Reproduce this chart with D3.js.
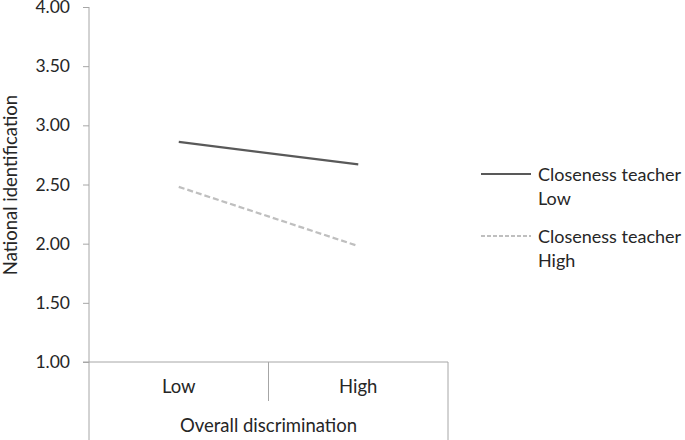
<!DOCTYPE html>
<html><head><meta charset="utf-8">
<script src="https://cdn.jsdelivr.net/npm/d3@7"></script>
<style>body{margin:0;background:#fff}svg{display:block}text{font-family:Lato,"Open Sans",sans-serif;fill:#262626}</style>
</head><body>
<svg id="c" width="685" height="440"></svg>
<script>
const categories = ["Low", "High"];
const seriesNames = ["Closeness teacher Low", "Closeness teacher High"];
const seriesLow = [2.86, 2.67];
const seriesHigh = [2.48, 1.98];
const yTicks = [1.0, 1.5, 2.0, 2.5, 3.0, 3.5, 4.0];
const xTitle = "Overall discrimination";
const yTitle = "National identification";

const svg = d3.select("#c");
const L = 89, R = 448, T = 7, B = 362;
const y = d3.scaleLinear().domain([1, 4]).range([B, T]);
const x = d3.scaleBand().domain(categories).range([L, R]);
const axisColor = "#a6a6a6";

// y axis
const ya = svg.append("g").attr("transform", `translate(${L},0)`)
  .call(d3.axisLeft(y).tickValues(yTicks).tickFormat(d3.format(".2f")).tickSize(6).tickSizeOuter(0));
ya.select(".domain").remove();
ya.selectAll(".tick line").attr("stroke", axisColor);
ya.selectAll(".tick text").attr("x", -19).attr("font-size", 17.5).attr("fill", "#262626").style("font-family", "Lato,'Open Sans',sans-serif");
svg.append("line").attr("x1", L).attr("x2", L).attr("y1", T).attr("y2", 440).attr("stroke", axisColor);

// x axis table
svg.append("line").attr("x1", L - 6).attr("x2", R).attr("y1", B).attr("y2", B).attr("stroke", axisColor);
svg.append("line").attr("x1", x("High")).attr("x2", x("High")).attr("y1", B).attr("y2", 401).attr("stroke", axisColor);
svg.append("line").attr("x1", R).attr("x2", R).attr("y1", B).attr("y2", 440).attr("stroke", axisColor);
svg.selectAll(".xl").data(categories).enter().append("text")
  .attr("x", d => x(d) + x.bandwidth() / 2).attr("y", 393).attr("text-anchor", "middle").attr("font-size", 18.5).text(d => d);
svg.append("text").attr("x", (L + R) / 2).attr("y", 432).attr("text-anchor", "middle").attr("font-size", 18.5).text(xTitle);
svg.append("text").attr("transform", `translate(17,185) rotate(-90)`).attr("text-anchor", "middle").attr("font-size", 18.5).text(yTitle);

// lines
const line = d3.line().x((d, i) => x(categories[i]) + x.bandwidth() / 2).y(d => y(d));
const styles = [{c: "#595959", w: 2.25, dash: null}, {c: "#bfbfbf", w: 2.25, dash: "6,3"}];
[seriesLow, seriesHigh].forEach((s, i) => {
  svg.append("path").datum(s).attr("d", line).attr("fill", "none")
    .attr("stroke", styles[i].c).attr("stroke-width", styles[i].w).attr("stroke-dasharray", styles[i].dash);
});

// legend
const legY = [174, 236];
seriesNames.forEach((n, i) => {
  const g = svg.append("g").attr("transform", `translate(0,${legY[i]})`);
  g.append("line").attr("x1", 481).attr("x2", 531).attr("y1", 0).attr("y2", 0)
    .attr("stroke", styles[i].c).attr("stroke-width", 2).attr("stroke-dasharray", styles[i].dash ? "4,2" : null);
  const words = n.split(" ");
  g.append("text").attr("x", 538).attr("y", 6.5).attr("font-size", 18).text(words.slice(0, 2).join(" "));
  g.append("text").attr("x", 538).attr("y", 31).attr("font-size", 18).text(words[2]);
});
</script>
</body></html>
